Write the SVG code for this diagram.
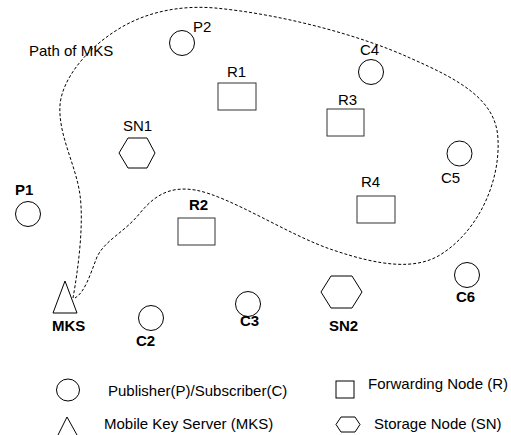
<svg xmlns="http://www.w3.org/2000/svg" width="511" height="435" viewBox="0 0 511 435">
<style>
.s{fill:#fff;stroke:#000;stroke-width:1}
.r{fill:#fff;stroke:#333;stroke-width:1}
.t{font-family:"Liberation Sans",Arial,sans-serif;font-size:15px;fill:#000}
.b{font-weight:bold}
.p{fill:none;stroke:#000;stroke-width:1;stroke-dasharray:3,2}
</style>
<rect width="511" height="435" fill="#fff"/>
<g id="connectors">
<path class="p" d="M73,298 C78,270 84,225 80,195 C76,165 58,135 60,105 C62,80 85,50 117,30 C145,12 180,5 215,8 C280,14 360,35 410,58 C460,80 497,100 498,140 C500,180 480,230 440,255 C415,270 380,266 333,250 C290,236 230,196 195,190 C170,186 155,195 140,213 C125,232 105,240 97,257 C90,275 85,292 75,298"/>
</g>
<g id="path-label"><text class="t" x="29" y="56">Path of MKS</text></g>
<g id="P2"><circle class="s" cx="182" cy="43" r="12.5"/><text class="t" x="193" y="31.5">P2</text></g>
<g id="R1"><rect class="r" x="218" y="83" width="38" height="27"/><text class="t" x="227" y="76.5">R1</text></g>
<g id="C4"><circle class="s" cx="371" cy="72" r="12.5"/><text class="t" x="360" y="55">C4</text></g>
<g id="R3"><rect class="r" x="327" y="109" width="37" height="27"/><text class="t" x="338" y="105">R3</text></g>
<g id="SN1"><polygon class="s" points="128,138 147,138 155,153 147,168 128,168 119,153"/><text class="t" x="123" y="131">SN1</text></g>
<g id="C5"><circle class="s" cx="459.5" cy="153.5" r="12.5"/><text class="t" x="441" y="183">C5</text></g>
<g id="P1"><circle class="s" cx="28" cy="214" r="12.5"/><text class="t b" x="15" y="195">P1</text></g>
<g id="R4"><rect class="r" x="357" y="196" width="38" height="27"/><text class="t" x="361" y="187">R4</text></g>
<g id="R2"><rect class="r" x="178" y="218" width="37" height="27"/><text class="t b" x="189" y="210">R2</text></g>
<g id="MKS"><polygon class="s" points="65,281 77,313 53,313"/><text class="t b" x="52" y="331">MKS</text></g>
<g id="C2"><circle class="s" cx="151" cy="318" r="12.5"/><text class="t b" x="136" y="346">C2</text></g>
<g id="C3"><circle class="s" cx="248" cy="304" r="12.5"/><text class="t b" x="240" y="326">C3</text></g>
<g id="SN2"><polygon class="s" points="331,276 352,276 362,292 352,308 331,308 321,292"/><text class="t b" x="329" y="331">SN2</text></g>
<g id="C6"><circle class="s" cx="467" cy="275" r="12.5"/><text class="t b" x="456" y="302">C6</text></g>
<g id="legend">
<ellipse class="s" cx="68" cy="390" rx="11.5" ry="11"/>
<text class="t" x="108" y="396">Publisher(P)/Subscriber(C)</text>
<rect class="s" x="336" y="381" width="18" height="17"/>
<text class="t" x="368" y="389">Forwarding Node (R)</text>
<polyline class="s" fill="none" style="fill:none" points="58,435 67,417 77,435"/>
<text class="t" x="104" y="429">Mobile Key Server (MKS)</text>
<polygon class="s" points="341,417 355,417 360,424.5 355,432 341,432 336,424.5"/>
<text class="t" x="374" y="429">Storage Node (SN)</text>
</g>
</svg>
